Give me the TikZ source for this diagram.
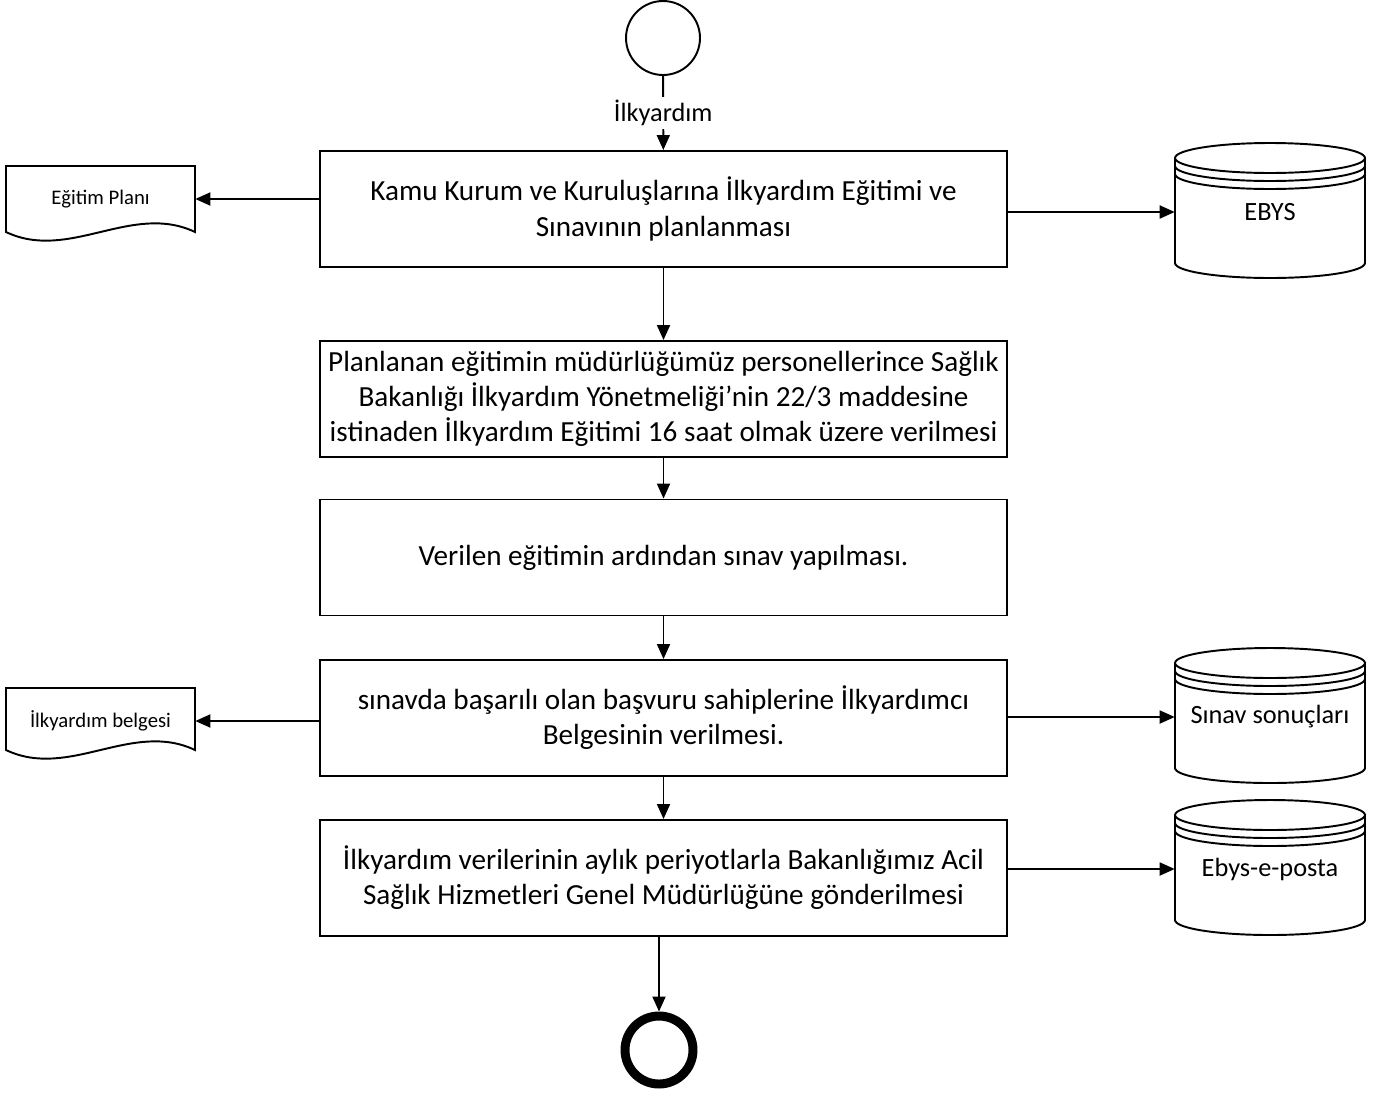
\documentclass[tikz,border=0pt]{standalone}
\usepackage{fontspec}
\setmainfont{Carlito}
\usetikzlibrary{arrows.meta}

% sheet with a wavy lower edge: left, top, bottom
\newcommand{\docshape}[3]{%
  \draw[line] (#1,#2) -- (#1+189,#2) -- (#1+189,#3)
    .. controls (#1+126,#3-30) and (#1+63,#3+30) .. (#1,#3) -- cycle;}
% drum with three rims: left, top
\newcommand{\dbshape}[2]{%
  \draw[line] (#1+95,#2+15) ellipse[x radius=1.9cm, y radius=0.3cm];
  \foreach \k in {8,16}
    \draw[line] (#1,#2+15+\k) arc[start angle=180, end angle=360, x radius=1.9cm, y radius=0.3cm];
  \draw[line] (#1,#2+15) -- (#1,#2+120)
    arc[start angle=180, end angle=360, x radius=1.9cm, y radius=0.3cm] -- (#1+190,#2+15);}

\begin{document}
\begin{tikzpicture}[x=0.02cm,y=-0.02cm,>={Triangle[length=3mm,width=2.6mm]},
    line/.style={line width=1.1pt},
    box/.style={line,draw,rectangle,minimum width=13.74cm,minimum height=2.32cm,
      inner xsep=1.5pt,align=center,font=\fontsize{16.6}{20}\selectfont},
    sheet/.style={minimum width=3.78cm,inner sep=0pt,font=\fontsize{11.8}{14}\selectfont},
    drum/.style={minimum width=3.8cm,inner sep=0pt,font=\fontsize{15}{18}\selectfont},
    flow/.style={line,->}]
    \useasboundingbox (0,0) rectangle (1388,1096);
    % --- main chain
    \node[line,draw,circle,minimum size=1.48cm,inner sep=0pt] (start) at (663,38) {};
    \node[box] (planlama) at (663.5,209) {Kamu Kurum ve Kuruluşlarına İlkyardım Eğitimi ve\\Sınavının planlanması};
    \node[box] (egitim) at (663.5,399) {Planlanan eğitimin müdürlüğümüz personellerince Sağlık\\Bakanlığı İlkyardım Yönetmeliği’nin 22/3 maddesine\\istinaden İlkyardım Eğitimi 16 saat olmak üzere verilmesi};
    \node[box] (sinav) at (663.5,557.5) {Verilen eğitimin ardından sınav yapılması.};
    \node[box] (belge) at (663.5,718) {sınavda başarılı olan başvuru sahiplerine İlkyardımcı\\Belgesinin verilmesi.};
    \node[box] (bildirim) at (663.5,878) {İlkyardım verilerinin aylık periyotlarla Bakanlığımız Acil\\Sağlık Hizmetleri Genel Müdürlüğüne gönderilmesi};
    \node[draw,circle,line width=5.1pt,minimum size=1.36cm,inner sep=0pt] (bitis) at (659,1050) {};
    \draw[flow] (start) -- node[fill=white,inner sep=1.5pt,font=\fontsize{15}{18}\selectfont] {İlkyardım} (planlama);
    \draw[flow] (planlama) -- (egitim);
    \draw[flow] (egitim) -- (sinav);
    \draw[flow] (sinav) -- (belge);
    \draw[flow] (belge) -- (bildirim);
    \draw[flow] (bitis.north |- bildirim.south) -- (bitis.north);
    % --- documents on the left
    \docshape{6}{166}{232}
    \node[sheet] (egplan) at (100.5,199) {Eğitim Planı};
    \docshape{6}{688}{750}
    \node[sheet] (ilkbelge) at (100.5,721) {İlkyardım belgesi};
    \draw[flow] (planlama.west |- egplan.east) -- (egplan.east);
    \draw[flow] (belge.west |- ilkbelge.east) -- (ilkbelge.east);
    % --- stores on the right
    \dbshape{1175}{143}
    \node[drum] (ebys) at (1270,212) {EBYS};
    \dbshape{1175}{648}
    \node[drum] (sonuc) at (1270,717) {Sınav sonuçları};
    \dbshape{1175}{800}
    \node[drum] (eposta) at (1270,869) {Ebys-e-posta};
    \draw[flow] (planlama.east |- ebys.west) -- (ebys.west);
    \draw[flow] (belge.east |- sonuc.west) -- (sonuc.west);
    \draw[flow] (bildirim.east |- eposta.west) -- (eposta.west);
  \end{tikzpicture}
\end{document}
